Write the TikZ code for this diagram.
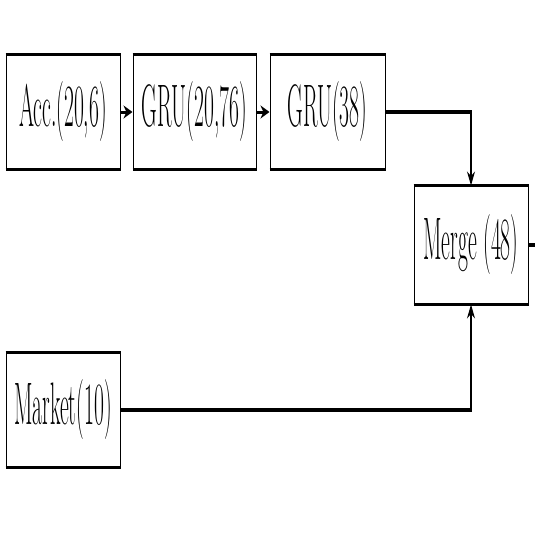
\documentclass[tikz,border=0pt]{standalone}
\usepackage{fontspec}
\usetikzlibrary{arrows.meta}
\begin{document}
\begin{tikzpicture}[x=1pt,y=-1pt,
  blk/.style={draw, line width=1pt, minimum width=114pt, minimum height=114pt, inner sep=0pt, font=\fontsize{60}{66}\selectfont},
  hl/.style={line width=2.8pt},
  thickh/.style={line width=4.5pt},
  thinv/.style={line width=1.2pt},
  vtip/.style={-{Stealth[length=14pt,width=8pt]}},
  htip/.style={-{Stealth[length=9pt,width=13pt]}, line width=3pt}]
\useasboundingbox (0,0) rectangle (535,535);
\newcommand{\sq}[1]{\raisebox{-3pt}{\scalebox{0.36}[1]{#1}}}
\node[blk] (acc) at (63,112) {\sq{Acc.(20,6)}};
\node[blk, minimum width=123pt] (gru1) at (194.5,112) {\sq{GRU(20,76)}};
\node[blk, minimum width=115pt] (gru2) at (327.5,112) {\sq{GRU(38)}};
\node[blk, minimum height=118pt] (merge) at (471,245) {\sq{Merge (48)}};
\node[blk] (market) at (63,410) {\sq{Market(10)}};
\foreach \n in {acc,gru1,gru2,merge,market}{
  \draw[hl] (\n.north west) -- (\n.north east);
  \draw[hl] (\n.south west) -- (\n.south east);
}
\draw[htip] (acc.east) -- (gru1.west);
\draw[htip] (gru1.east) -- (gru2.west);
\coordinate (c1) at (merge.north |- gru2.east);
\coordinate (c2) at (merge.south |- market.east);
\coordinate (out) at (535,245);
\draw[thickh] (gru2.east) -- ([xshift=0.6pt]c1);
\draw[thinv,vtip] ([yshift=-2.2pt]c1) -- (merge.north);
\draw[thickh] (market.east) -- ([xshift=0.6pt]c2);
\draw[thinv,vtip] ([yshift=2.2pt]c2) -- (merge.south);
\draw[thickh] (merge.east) -- (out);
\end{tikzpicture}
\end{document}
